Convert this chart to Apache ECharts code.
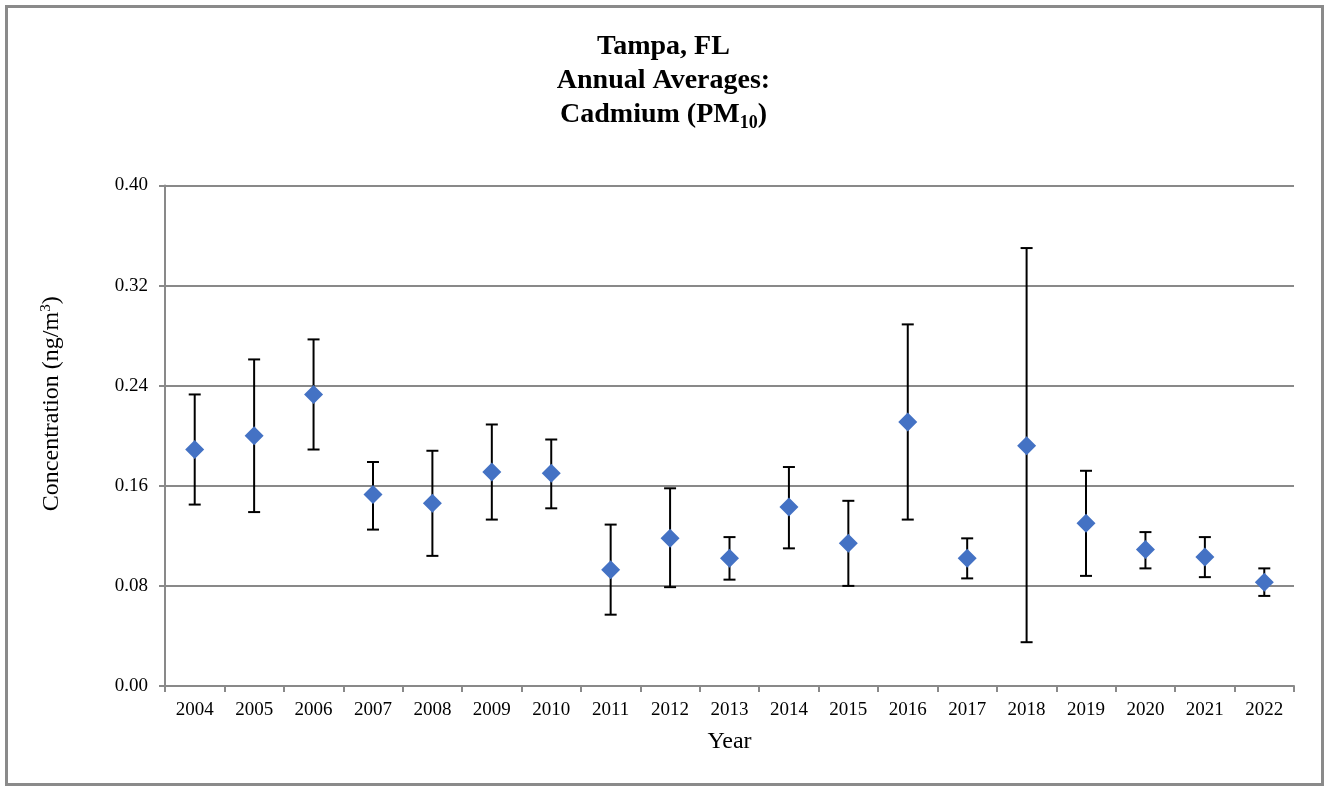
<!DOCTYPE html>
<html>
<head>
<meta charset="utf-8">
<script src="https://cdn.jsdelivr.net/npm/echarts@6/dist/echarts.min.js"></script>
<style>
html,body{margin:0;padding:0;background:#fff;}
#chart{width:1327px;height:787px;}
</style>
</head>
<body>
<div id="chart"></div>
<script>
const years = ['2004','2005','2006','2007','2008','2009','2010','2011','2012','2013','2014','2015','2016','2017','2018','2019','2020','2021','2022'];
const means = [0.189,0.200,0.233,0.153,0.146,0.171,0.170,0.093,0.118,0.102,0.143,0.114,0.211,0.102,0.192,0.130,0.109,0.103,0.083];
const upper = [0.233,0.261,0.277,0.179,0.188,0.209,0.197,0.129,0.158,0.119,0.175,0.148,0.289,0.118,0.350,0.172,0.123,0.119,0.094];
const lower = [0.145,0.139,0.189,0.125,0.104,0.133,0.142,0.057,0.079,0.085,0.110,0.080,0.133,0.086,0.035,0.088,0.094,0.087,0.072];
const yTicks = ['0.00','0.08','0.16','0.24','0.32','0.40'];

const chart = echarts.init(document.getElementById('chart'));
const font = 'Liberation Serif';
const errData = years.map((y,i)=>[i, lower[i], upper[i]]);

chart.setOption({
  animation:false,
  backgroundColor:'#fff',
  textStyle:{fontFamily:font},
  title:{
    text:'Tampa, FL\nAnnual Averages:\nCadmium (PM{sub|10})',
    left:'center', top:25,
    textStyle:{fontFamily:font,fontSize:28,fontWeight:'bold',color:'#000',lineHeight:34,
      rich:{sub:{fontFamily:font,fontSize:18,fontWeight:'bold',color:'#000',verticalAlign:'bottom',padding:[12,0,0,0],lineHeight:34}}}
  },
  grid:{left:165,right:33,top:185.5,bottom:101,containLabel:false},
  xAxis:{
    type:'category', data:years, boundaryGap:true,
    name:'Year', nameLocation:'middle', nameGap:44,
    nameTextStyle:{fontFamily:font,fontSize:24,color:'#000'},
    axisLine:{lineStyle:{color:'#898989',width:2}},
    axisTick:{show:true,length:6,interval:0,alignWithLabel:false,lineStyle:{color:'#898989',width:2}},
    axisLabel:{fontFamily:font,fontSize:19,color:'#000',margin:15,interval:0}
  },
  yAxis:{
    type:'value', min:0, max:0.40, interval:0.08,
    name:'Concentration (ng/m{sup|3})', nameLocation:'middle', nameGap:100,
    nameTextStyle:{fontFamily:font,fontSize:24,color:'#000',padding:[0,0,0,64],
      rich:{sup:{fontFamily:font,fontSize:15,color:'#000',verticalAlign:'top',padding:[0,0,11,0]}}},
    axisLine:{show:true,lineStyle:{color:'#898989',width:2}},
    axisTick:{show:true,length:6,inside:false,lineStyle:{color:'#898989',width:2}},
    axisLabel:{fontFamily:font,fontSize:19,color:'#000',margin:17,
      formatter:(v)=>{const idx=Math.round(v/0.08);return yTicks[idx]!==undefined?yTicks[idx]:v.toFixed(2);}},
    splitLine:{show:true,lineStyle:{color:'#898989',width:2}}
  },
  graphic:[{type:'rect',shape:{x:6.5,y:6.5,width:1316,height:778},style:{fill:'none',stroke:'#8a8a8a',lineWidth:3},silent:true,z:100}],
  series:[
    {
      type:'custom',
      data:errData,
      z:2,
      renderItem:function(params,api){
        const x=api.value(0);
        const lo=api.coord([x,api.value(1)]);
        const hi=api.coord([x,api.value(2)]);
        const cw=6;
        const st={stroke:'#000',lineWidth:2};
        return {type:'group',children:[
          {type:'line',shape:{x1:lo[0],y1:lo[1],x2:hi[0],y2:hi[1]},style:st},
          {type:'line',shape:{x1:lo[0]-cw,y1:lo[1],x2:lo[0]+cw,y2:lo[1]},style:st},
          {type:'line',shape:{x1:hi[0]-cw,y1:hi[1],x2:hi[0]+cw,y2:hi[1]},style:st}
        ]};
      },
      encode:{x:0,y:[1,2]}
    },
    {
      type:'scatter',
      data:means,
      symbol:'diamond',
      symbolSize:[19,19],
      itemStyle:{color:'#4472C4',opacity:1},
      z:3
    }
  ]
});
</script>
</body>
</html>
